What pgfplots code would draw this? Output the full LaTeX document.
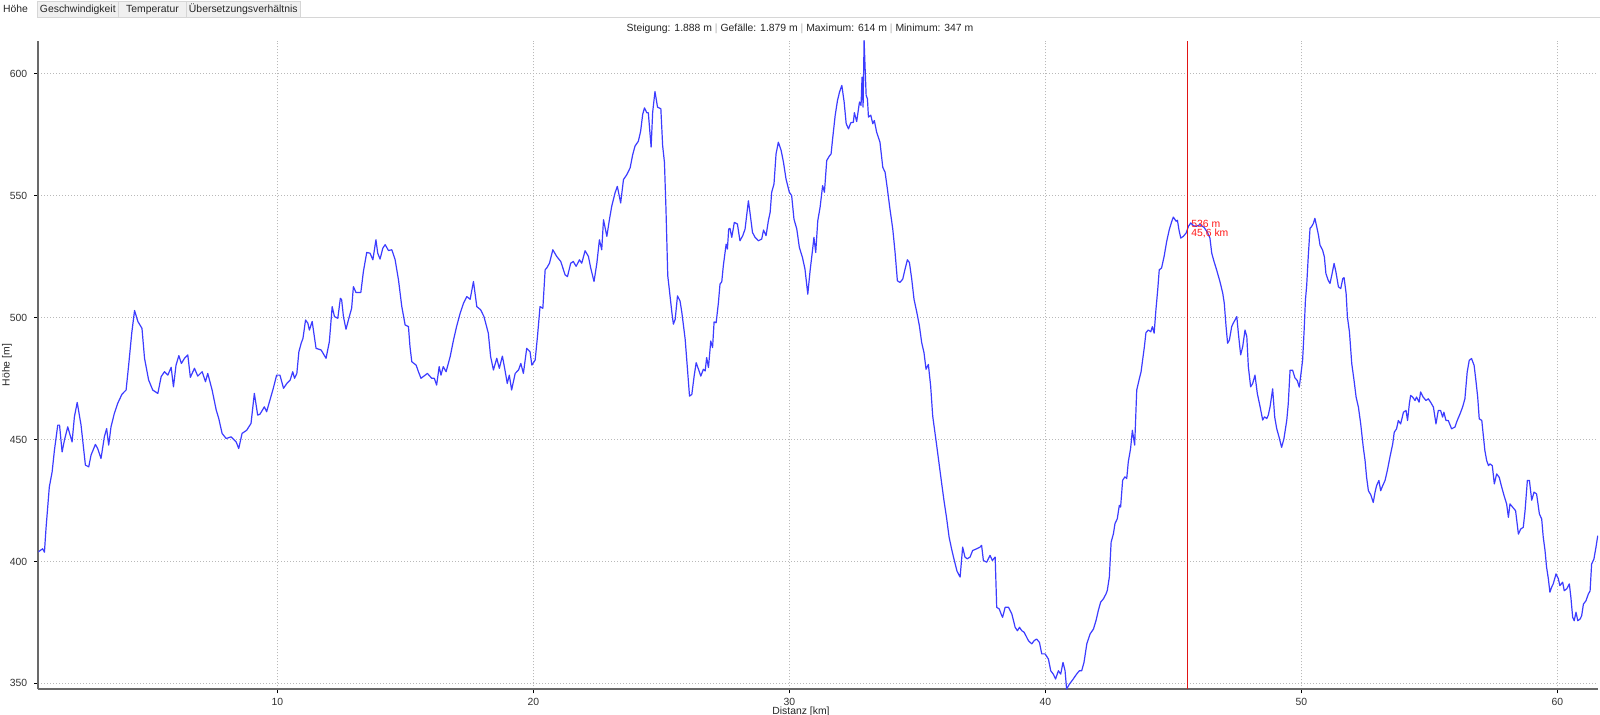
\documentclass[border=0pt]{standalone}
\usepackage{fontspec}
\setmainfont{Liberation Sans}
\usepackage{pgfplots}
\pgfplotsset{compat=1.18}
\definecolor{lineblue}{RGB}{60,60,255}
\definecolor{axgray}{RGB}{105,105,105}
\definecolor{tabgray}{RGB}{240,240,240}
\definecolor{tabborder}{RGB}{214,214,214}
\definecolor{cursorred}{RGB}{225,20,20}
\newcommand\fs{\fontsize{5.2}{6.2}\selectfont}
\begin{document}
\begin{tikzpicture}[x=0.5pt,y=0.5pt]
\path[use as bounding box, fill=white] (0,0) rectangle (1600,715);
% tab bar
\draw[tabborder, line width=0.5pt] (37.3,697.7) -- (1600,697.7);
\draw[tabborder, fill=tabgray, line width=0.5pt] (37.3,697.7) rectangle (118.3,713.3);
\draw[tabborder, fill=tabgray, line width=0.5pt] (118.3,697.7) rectangle (186.7,713.3);
\draw[tabborder, fill=tabgray, line width=0.5pt] (186.7,697.7) rectangle (300,713.3);
\node[font=\fs, text=black!85, inner sep=0, anchor=base] at (15.5,702) {Höhe};
\node[font=\fs, text=black!85, inner sep=0, anchor=base] at (77.8,702) {Geschwindigkeit};
\node[font=\fs, text=black!85, inner sep=0, anchor=base] at (152.5,702) {Temperatur};
\node[font=\fs, text=black!85, inner sep=0, anchor=base] at (243.3,702) {Übersetzungsverhältnis};
% title
\node[font=\fs, text=black!85, inner sep=0, anchor=base] at (800,683.5) {Steigung: 1.888 m {\color{gray!60}|} Gefälle: 1.879 m {\color{gray!60}|} Maximum: 614 m {\color{gray!60}|} Minimum: 347 m};
% axis labels
\node[font=\fs, text=black!85, inner sep=0, anchor=base] at (801,0.3) {Distanz [km]};
\node[font=\fs, text=black!85, inner sep=0, rotate=90] at (7,350) {Höhe [m]};
\begin{axis}[
  at={(19.15pt,12.75pt)}, anchor=south west,
  scale only axis, width=779.85pt, height=324.35pt,
  xmin=0.66, xmax=61.59, ymin=347.5, ymax=613.5,
  axis x line=bottom, axis y line=left,
  axis line style={axgray, line width=1pt, -},
  xtick={10,20,30,40,50,60}, ytick={350,400,450,500,550,600},
  tick align=outside, major tick length=2pt,
  tick style={black, line width=0.5pt},
  grid=major,
  major grid style={gray!55, line width=0.4pt, dash pattern=on 0.5pt off 1pt},
  ticklabel style={font=\fs, text=black!80},
  xticklabel style={yshift=1pt},
  /pgf/number format/assume math mode=true,
  clip=true,
]
\addplot[lineblue, line width=0.6pt, line join=round] coordinates {
(0.64,403.8) (0.83,405.2) (0.90,403.8) (0.96,413.4) (1.09,430.5) (1.20,436.7) (1.29,445.6) (1.42,455.9) (1.49,455.9) (1.59,444.9)
(1.68,449.7) (1.81,455.2) (1.98,449.0) (2.07,459.3) (2.18,465.2) (2.33,455.9) (2.50,439.5) (2.63,438.8) (2.72,443.6) (2.89,448.0)
(2.98,446.3) (3.11,442.2) (3.24,451.1) (3.33,454.5) (3.41,447.7) (3.50,455.2) (3.63,460.7) (3.76,464.8) (3.93,468.6) (4.09,470.3)
(4.19,480.5) (4.31,493.6) (4.42,502.9) (4.55,498.4) (4.71,495.6) (4.81,483.3) (4.97,474.4) (5.13,470.3) (5.33,468.9) (5.46,475.8)
(5.59,477.8) (5.72,476.4) (5.85,479.6) (5.94,471.6) (6.04,480.5) (6.15,484.4) (6.25,481.2) (6.37,483.3) (6.50,484.7) (6.60,475.5)
(6.76,479.2) (6.89,476.0) (7.06,477.8) (7.19,473.7) (7.28,477.1) (7.45,470.3) (7.61,462.1) (7.71,458.6) (7.84,452.5) (8.00,450.4)
(8.19,451.1) (8.39,449.0) (8.49,446.3) (8.62,452.5) (8.80,453.8) (8.97,456.6) (9.10,468.9) (9.23,460.0) (9.32,460.4) (9.49,463.4)
(9.58,461.4) (9.69,465.5) (9.84,471.0) (9.97,476.4) (10.10,476.4) (10.24,471.0) (10.37,473.0) (10.50,474.4) (10.60,477.8) (10.67,475.1)
(10.76,477.1) (10.84,486.0) (10.93,489.5) (11.00,491.5) (11.10,499.0) (11.19,497.7) (11.25,494.9) (11.36,498.4) (11.51,487.4) (11.71,486.7)
(11.90,483.3) (12.03,490.1) (12.14,504.5) (12.23,500.4) (12.36,499.7) (12.46,507.9) (12.51,507.3) (12.58,500.4) (12.68,495.2) (12.81,500.4)
(12.90,503.8) (12.97,512.7) (13.07,510.3) (13.26,510.3) (13.36,518.9) (13.49,526.7) (13.62,526.4) (13.73,523.7) (13.85,531.9) (13.92,526.4)
(14.01,524.0) (14.12,528.5) (14.21,529.9) (14.34,527.5) (14.47,527.8) (14.60,523.7) (14.73,515.5) (14.86,504.5) (14.99,497.0) (15.12,496.3)
(15.18,488.1) (15.25,481.9) (15.42,480.5) (15.51,477.8) (15.61,475.1) (15.86,477.1) (16.03,475.1) (16.13,475.1) (16.22,472.3) (16.32,479.9)
(16.39,476.4) (16.48,479.9) (16.59,477.8) (16.75,484.0) (16.88,490.8) (17.00,496.3) (17.14,501.8) (17.27,505.9) (17.40,508.6) (17.53,507.5)
(17.66,514.8) (17.79,504.5) (17.94,503.2) (18.07,500.4) (18.24,493.6) (18.33,484.0) (18.44,478.5) (18.57,483.3) (18.67,479.2) (18.79,484.2)
(18.89,478.5) (18.98,473.0) (19.06,476.4) (19.15,470.3) (19.29,477.1) (19.42,478.5) (19.51,481.2) (19.61,477.1) (19.74,487.4) (19.87,486.0)
(19.94,480.5) (20.07,482.6) (20.16,492.2) (20.26,504.5) (20.37,503.8) (20.46,519.6) (20.52,520.3) (20.63,522.3) (20.76,527.8) (20.91,525.1)
(21.07,523.0) (21.24,517.5) (21.33,516.8) (21.46,522.3) (21.56,523.0) (21.67,521.0) (21.80,523.7) (21.89,522.3) (22.02,527.4) (22.15,525.1)
(22.24,520.3) (22.37,514.8) (22.48,522.3) (22.58,531.9) (22.67,527.8) (22.74,540.1) (22.87,533.3) (22.97,540.1) (23.06,545.6) (23.19,551.1)
(23.28,553.8) (23.41,547.0) (23.52,556.6) (23.65,558.6) (23.78,561.4) (23.88,566.8) (23.97,570.3) (24.10,572.3) (24.19,576.4) (24.27,583.3)
(24.34,586.0) (24.43,584.0) (24.49,584.0) (24.60,569.9) (24.66,584.2) (24.75,592.7) (24.85,586.3) (24.98,585.6) (25.05,570.5) (25.12,563.7)
(25.18,544.5) (25.25,517.1) (25.31,511.6) (25.41,502.1) (25.47,497.3) (25.54,499.3) (25.63,508.9) (25.73,506.8) (25.80,502.1) (25.93,491.1)
(26.02,478.8) (26.10,467.8) (26.19,468.5) (26.28,476.0) (26.36,481.5) (26.45,478.8) (26.54,476.0) (26.64,478.8) (26.71,478.1) (26.77,483.6)
(26.84,479.5) (26.93,490.4) (27.00,487.7) (27.06,498.2) (27.14,497.9) (27.23,506.2) (27.29,513.7) (27.36,514.7) (27.42,521.2) (27.53,530.1)
(27.58,528.1) (27.63,536.3) (27.68,536.6) (27.75,532.9) (27.85,539.0) (27.97,538.4) (28.07,531.5) (28.18,533.6) (28.27,536.3) (28.40,547.9)
(28.46,543.2) (28.56,534.9) (28.66,532.9) (28.79,531.5) (28.92,532.2) (28.99,535.9) (29.09,533.6) (29.18,539.7) (29.25,543.2) (29.31,551.4)
(29.40,554.8) (29.48,567.1) (29.57,571.9) (29.68,568.5) (29.77,563.7) (29.87,556.8) (30.00,551.4) (30.09,550.0) (30.18,540.4) (30.29,536.3)
(30.39,528.8) (30.51,524.7) (30.61,519.9) (30.72,509.6) (30.81,519.2) (30.91,528.1) (30.96,532.9) (31.03,526.7) (31.11,539.7) (31.20,545.2)
(31.30,554.1) (31.37,551.4) (31.46,564.4) (31.56,566.2) (31.63,567.1) (31.69,573.3) (31.79,582.9) (31.88,589.0) (31.96,592.5) (32.05,595.2)
(32.14,588.4) (32.22,579.5) (32.31,577.4) (32.40,579.9) (32.50,580.1) (32.54,584.0) (32.63,580.4) (32.74,588.4) (32.80,587.0) (32.84,598.6)
(32.88,586.3) (32.92,613.7) (32.96,602.1) (33.00,591.1) (33.05,589.7) (33.09,582.2) (33.18,583.0) (33.26,579.5) (33.32,580.8) (33.41,576.0)
(33.54,571.9) (33.65,561.6) (33.74,559.6) (33.83,552.7) (33.93,544.5) (34.04,536.3) (34.13,526.7) (34.22,515.1) (34.32,514.4) (34.43,515.8)
(34.52,519.9) (34.61,523.7) (34.69,522.6) (34.78,515.8) (34.87,507.5) (34.98,502.1) (35.08,496.6) (35.17,489.7) (35.26,485.6) (35.34,478.8)
(35.43,480.8) (35.52,471.9) (35.60,459.6) (35.75,448.0) (35.85,440.0) (35.95,432.0) (36.04,425.0) (36.14,418.0) (36.24,410.0) (36.34,405.0)
(36.43,401.0) (36.55,396.0) (36.67,393.6) (36.77,405.9) (36.86,401.8) (36.95,401.1) (37.06,401.8) (37.16,404.5) (37.32,405.2) (37.45,405.9)
(37.51,406.6) (37.58,400.4) (37.71,399.7) (37.84,402.5) (37.93,400.4) (38.04,401.8) (38.10,381.2) (38.20,380.5) (38.27,378.5) (38.33,377.1)
(38.43,381.2) (38.56,381.2) (38.69,378.5) (38.82,373.0) (38.91,371.6) (38.99,373.0) (39.08,371.6) (39.17,371.0) (39.34,367.5) (39.47,366.2)
(39.56,367.5) (39.66,368.2) (39.77,366.8) (39.86,362.1) (39.99,362.1) (40.12,360.0) (40.21,355.2) (40.31,353.8) (40.40,351.8) (40.51,355.2)
(40.60,353.8) (40.69,358.6) (40.77,355.2) (40.83,347.7) (40.94,349.7) (41.09,351.8) (41.22,353.8) (41.33,355.2) (41.42,355.2) (41.51,358.6)
(41.62,366.2) (41.75,370.3) (41.88,372.3) (41.98,375.8) (42.07,379.9) (42.16,383.3) (42.27,384.7) (42.37,386.7) (42.42,388.1) (42.50,393.6)
(42.57,407.9) (42.66,411.4) (42.72,415.5) (42.81,417.5) (42.89,423.0) (42.94,422.3) (43.02,433.3) (43.11,434.7) (43.18,434.0) (43.24,440.8)
(43.33,446.3) (43.40,453.8) (43.49,447.7) (43.57,470.3) (43.66,474.4) (43.74,477.8) (43.80,482.6) (43.87,488.1) (43.93,493.8) (44.02,494.9)
(44.12,494.2) (44.18,496.3) (44.25,493.6) (44.32,503.2) (44.39,511.4) (44.45,519.6) (44.54,520.3) (44.64,525.1) (44.74,531.2) (44.84,536.0)
(44.94,539.5) (45.00,541.2) (45.11,539.5) (45.16,539.9) (45.22,536.0) (45.29,532.6) (45.39,533.3) (45.50,534.7) (45.59,537.4) (45.68,538.8)
(45.78,537.7) (45.89,537.4) (46.04,538.1) (46.20,537.0) (46.33,535.0) (46.43,532.6) (46.50,526.4) (46.59,523.0) (46.69,519.6) (46.82,514.8)
(46.93,510.0) (46.99,505.9) (47.06,496.3) (47.12,489.5) (47.19,490.8) (47.28,496.3) (47.34,497.7) (47.41,499.0) (47.48,500.4) (47.54,493.6)
(47.63,484.7) (47.71,488.1) (47.80,494.9) (47.87,492.2) (47.93,479.9) (48.02,471.6) (48.10,473.0) (48.19,476.4) (48.28,468.9) (48.39,463.4)
(48.49,458.0) (48.56,459.3) (48.65,458.6) (48.71,460.0) (48.78,463.5) (48.88,470.8) (48.96,459.2) (49.04,454.4) (49.13,451.0) (49.23,446.8)
(49.32,450.3) (49.43,457.8) (49.49,464.7) (49.56,478.4) (49.66,478.4) (49.75,475.3) (49.84,474.2) (49.92,471.5) (50.01,479.0) (50.05,482.5)
(50.11,494.8) (50.16,507.1) (50.21,513.3) (50.27,524.9) (50.34,536.6) (50.40,537.3) (50.47,538.6) (50.53,540.7) (50.60,537.3) (50.67,533.8)
(50.73,529.7) (50.83,527.7) (50.90,524.9) (50.96,518.1) (51.05,515.3) (51.12,514.0) (51.19,517.4) (51.28,522.2) (51.35,518.8) (51.45,512.6)
(51.54,511.9) (51.62,516.0) (51.67,516.4) (51.75,509.9) (51.80,500.3) (51.88,494.1) (51.97,481.1) (52.06,474.2) (52.14,467.4) (52.23,463.3)
(52.32,456.4) (52.42,446.8) (52.49,441.4) (52.55,434.5) (52.62,429.0) (52.71,427.4) (52.81,424.2) (52.88,428.4) (52.94,431.1) (53.03,433.2)
(53.10,429.0) (53.18,431.1) (53.27,433.2) (53.36,437.3) (53.46,442.7) (53.57,448.2) (53.63,453.0) (53.72,454.4) (53.79,457.8) (53.88,456.4)
(53.99,461.2) (54.09,461.9) (54.15,457.8) (54.22,464.7) (54.27,468.1) (54.35,467.4) (54.44,466.0) (54.50,467.4) (54.60,465.3) (54.66,469.5)
(54.76,467.4) (54.87,466.0) (54.96,466.7) (55.05,465.3) (55.16,463.3) (55.26,456.4) (55.35,461.9) (55.44,461.9) (55.52,459.2) (55.57,461.2)
(55.65,457.8) (55.74,457.8) (55.87,454.4) (56.00,455.1) (56.09,457.8) (56.20,460.5) (56.30,463.3) (56.39,466.7) (56.48,477.7) (56.56,482.5)
(56.65,483.2) (56.75,480.4) (56.82,474.2) (56.89,467.4) (56.95,458.5) (57.05,457.8) (57.11,451.6) (57.17,445.5) (57.24,441.4) (57.31,439.3)
(57.37,440.0) (57.46,439.3) (57.54,431.8) (57.63,435.9) (57.73,434.5) (57.83,430.4) (57.92,427.0) (58.02,423.6) (58.09,418.1) (58.15,423.6)
(58.26,422.2) (58.37,420.8) (58.48,411.2) (58.57,413.3) (58.67,414.0) (58.74,420.8) (58.83,433.2) (58.91,433.2) (59.00,425.1) (59.09,428.4)
(59.19,427.7) (59.30,419.5) (59.39,417.4) (59.45,410.0) (59.52,404.5) (59.58,397.7) (59.65,392.9) (59.71,387.4) (59.78,389.5) (59.84,390.8)
(59.95,394.9) (60.04,392.9) (60.10,390.1) (60.21,391.5) (60.27,388.0) (60.37,388.8) (60.47,390.8) (60.53,385.3) (60.60,377.1) (60.66,375.7)
(60.73,379.2) (60.80,375.7) (60.89,376.4) (60.95,377.7) (61.02,382.5) (61.12,383.9) (61.21,386.6) (61.28,387.9) (61.34,398.9) (61.43,401.0)
(61.51,405.8) (61.58,410.6)
};
\addplot[cursorred, line width=0.55pt] coordinates {(45.54,347.5) (45.54,613.5)};
\end{axis}
\node[font=\fs, text=red!90, inner sep=0, anchor=west] at (1191,491) {536 m};
\node[font=\fs, text=red!90, inner sep=0, anchor=west] at (1191,482) {45,6 km};
\end{tikzpicture}
\end{document}
